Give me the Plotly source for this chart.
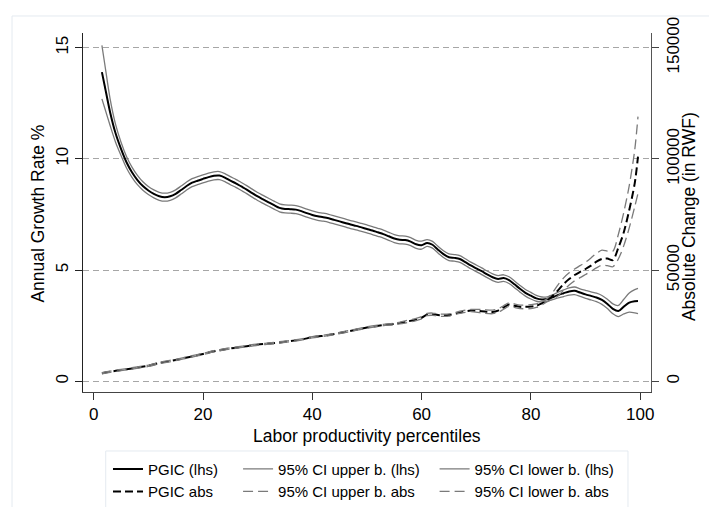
import plotly.graph_objects as go

# ---- growth incidence curve (left axis, % per year) ----
pct_lhs = [1.5, 2, 3, 4, 5, 6, 7, 8, 9, 10, 11, 12, 13, 14, 15, 16, 17, 18, 19, 20,
           21, 22, 23, 24, 25, 26, 27, 28, 29, 30, 31, 32, 33, 34, 35, 36, 37, 38, 39, 40,
           41, 42, 43, 44, 45, 46, 47, 48, 49, 50, 51, 52, 53, 54, 55, 56, 57, 58, 59, 60,
           61, 62, 63, 64, 65, 66, 67, 68, 69, 70, 71, 72, 73, 74, 75, 76, 77, 78, 79, 80,
           81, 82, 83, 84, 85, 86, 87, 88, 89, 90, 91, 92, 93, 94, 95, 96, 97, 98, 99, 99.6]

pgic_lhs = [13.90, 13.30, 12.10, 11.15, 10.45, 9.85, 9.40, 9.05, 8.78, 8.58,
            8.43, 8.32, 8.28, 8.32, 8.43, 8.60, 8.78, 8.93, 9.02, 9.10,
            9.18, 9.24, 9.25, 9.16, 9.02, 8.90, 8.76, 8.62, 8.46, 8.31,
            8.18, 8.05, 7.92, 7.80, 7.75, 7.74, 7.72, 7.65, 7.56, 7.48,
            7.42, 7.38, 7.33, 7.26, 7.19, 7.12, 7.05, 6.99, 6.92, 6.85,
            6.78, 6.70, 6.62, 6.52, 6.42, 6.36, 6.35, 6.28, 6.16, 6.12,
            6.22, 6.14, 5.92, 5.72, 5.58, 5.55, 5.50, 5.36, 5.21, 5.08,
            4.95, 4.81, 4.68, 4.60, 4.64, 4.55, 4.36, 4.16, 3.98, 3.85,
            3.73, 3.68, 3.70, 3.78, 3.88, 3.96, 4.04, 4.07, 3.99, 3.91,
            3.84, 3.77, 3.66, 3.48, 3.26, 3.16, 3.36, 3.54, 3.60, 3.61]

ci_up_lhs = [15.10, 14.30, 12.70, 11.55, 10.75, 10.11, 9.63, 9.26, 8.97, 8.76,
             8.61, 8.50, 8.46, 8.50, 8.61, 8.78, 8.96, 9.11, 9.20, 9.28,
             9.36, 9.42, 9.43, 9.34, 9.20, 9.08, 8.94, 8.80, 8.64, 8.49,
             8.36, 8.23, 8.10, 7.98, 7.93, 7.92, 7.90, 7.83, 7.74, 7.66,
             7.60, 7.56, 7.51, 7.44, 7.37, 7.30, 7.23, 7.17, 7.10, 7.03,
             6.96, 6.88, 6.80, 6.70, 6.60, 6.54, 6.53, 6.46, 6.34, 6.30,
             6.37, 6.29, 6.07, 5.87, 5.73, 5.70, 5.65, 5.51, 5.36, 5.23,
             5.10, 4.96, 4.83, 4.75, 4.79, 4.70, 4.51, 4.31, 4.13, 4.00,
             3.86, 3.79, 3.80, 3.89, 4.01, 4.11, 4.20, 4.24, 4.16, 4.09,
             4.02, 3.96, 3.86, 3.69, 3.48, 3.41, 3.69, 3.97, 4.12, 4.18]

ci_lo_lhs = [12.70, 12.30, 11.50, 10.75, 10.15, 9.59, 9.17, 8.84, 8.59, 8.40,
             8.25, 8.14, 8.10, 8.14, 8.25, 8.42, 8.60, 8.75, 8.84, 8.92,
             9.00, 9.06, 9.07, 8.98, 8.84, 8.72, 8.58, 8.44, 8.28, 8.13,
             8.00, 7.87, 7.74, 7.62, 7.57, 7.56, 7.54, 7.47, 7.38, 7.30,
             7.24, 7.20, 7.15, 7.08, 7.01, 6.94, 6.87, 6.81, 6.74, 6.67,
             6.60, 6.52, 6.44, 6.34, 6.24, 6.18, 6.17, 6.10, 5.98, 5.94,
             6.07, 5.99, 5.77, 5.57, 5.43, 5.40, 5.35, 5.21, 5.06, 4.93,
             4.80, 4.66, 4.53, 4.45, 4.49, 4.40, 4.21, 4.01, 3.83, 3.70,
             3.60, 3.57, 3.60, 3.67, 3.75, 3.81, 3.88, 3.90, 3.82, 3.73,
             3.66, 3.58, 3.46, 3.27, 3.04, 2.91, 3.03, 3.11, 3.08, 3.04]

# ---- absolute change curve (right axis, RWF) ----
pct_abs = [1.5, 3, 5, 7, 10, 12, 15, 18, 20, 22,
           25, 28, 30, 33, 35, 38, 40, 43, 45, 48,
           50, 53, 55, 57, 59, 60, 61, 62, 63, 65,
           67, 69, 71, 73, 74, 75, 76, 77, 78, 80,
           81, 82, 83, 84, 85, 86, 87, 88, 89, 90,
           91, 92, 93, 94, 95, 96, 97, 98, 99, 99.6]

pgic_abs = [3600, 4300, 5100, 5800, 7000, 8200, 9600, 11200, 12300, 13500,
            14800, 15800, 16500, 17200, 17800, 18800, 19800, 20800, 21700, 23200,
            24200, 25300, 25800, 26700, 27800, 28600, 30000, 30200, 29800, 29800,
            31000, 31800, 31500, 31200, 31800, 33200, 34500, 34000, 33500, 33600,
            34000, 35000, 36500, 38500, 41000, 43800, 46000, 47800, 49200, 50500,
            52000, 53800, 55000, 55200, 54500, 60000, 67000, 77000, 89000, 101000]

ci_up_abs = [3900, 4600, 5400, 6100, 7300, 8500, 9900, 11500, 12600, 13800,
             15100, 16100, 16800, 17500, 18100, 19100, 20100, 21100, 22000, 23500,
             24500, 25600, 26100, 27200, 28300, 29100, 30500, 30700, 30300, 30300,
             31500, 32300, 32300, 32000, 32600, 34000, 35300, 34800, 34300, 34500,
             34800, 35700, 37200, 40000, 43500, 46500, 48800, 50500, 52000, 53500,
             55500, 57500, 59000, 58500, 58500, 66000, 76000, 88000, 104000, 119000]

ci_lo_abs = [3300, 4000, 4800, 5500, 6700, 7900, 9300, 10900, 12000, 13200,
             14500, 15500, 16200, 16900, 17500, 18500, 19500, 20500, 21400, 22900,
             23900, 25000, 25500, 26200, 27300, 28100, 29500, 29700, 29300, 29300,
             30500, 31300, 30700, 30400, 31000, 32400, 33700, 33200, 32700, 32700,
             33200, 34300, 35800, 37000, 38500, 41000, 43300, 45200, 46600, 48000,
             49500, 51000, 52200, 52000, 51500, 55000, 61000, 69000, 78500, 84500]

x_ticks = [0, 20, 40, 60, 80, 100]
y_ticks = [0, 5, 10, 15]
y2_ticks = [0, 50000, 100000, 150000]

FONT = "Liberation Sans, Arial, sans-serif"
BLACK = "#000000"
GREY = "#7a7a7a"

fig = go.Figure()

def add_line(x, y, name, color, width, dash, yaxis, legend):
    fig.add_trace(go.Scatter(
        x=x, y=y, name=name, mode="lines", yaxis=yaxis, legend=legend,
        line=dict(color=color, width=width, dash=dash, shape="spline", smoothing=0.8),
        hoverinfo="skip",
    ))

# column 1 of the key
add_line(pct_lhs, pgic_lhs, "PGIC (lhs)", BLACK, 2, "solid", "y", "legend")
add_line(pct_abs, pgic_abs, "PGIC abs", BLACK, 2, "8px,4px", "y2", "legend")
# column 2
add_line(pct_lhs, ci_up_lhs, "95% CI upper b. (lhs)", GREY, 1.3, "solid", "y", "legend2")
add_line(pct_abs, ci_up_abs, "95% CI upper b. abs", GREY, 1.3, "10px,5px", "y2", "legend2")
# column 3
add_line(pct_lhs, ci_lo_lhs, "95% CI lower b. (lhs)", GREY, 1.3, "solid", "y", "legend3")
add_line(pct_abs, ci_lo_abs, "95% CI lower b. abs", GREY, 1.3, "10px,5px", "y2", "legend3")

tick_font = dict(family=FONT, size=17, color=BLACK)
title_font = dict(family=FONT, size=17.5, color=BLACK)

legend_common = dict(
    orientation="v", xanchor="left", yanchor="top", xref="paper", yref="paper",
    bgcolor="rgba(0,0,0,0)", borderwidth=0, tracegroupgap=0, itemwidth=30,
    font=dict(family=FONT, size=15, color=BLACK), itemclick=False,
)

fig.update_layout(
    width=709, height=507,
    margin=dict(l=83, r=58, t=33, b=115, pad=0, autoexpand=False),
    paper_bgcolor="white", plot_bgcolor="white",
    font=dict(family=FONT, color=BLACK),
    showlegend=True,
    legend=dict(x=0.044, y=-0.169, **legend_common),
    legend2=dict(x=0.273, y=-0.169, **legend_common),
    legend3=dict(x=0.619, y=-0.169, **legend_common),
    xaxis=dict(
        range=[-1.96, 101.98], tickvals=x_ticks, ticks="outside", ticklen=7,
        tickcolor="#333333", tickwidth=1, showline=True, linecolor="#444444",
        linewidth=1, showgrid=False, zeroline=False, tickfont=tick_font,
        mirror=False,
    ),
    yaxis=dict(
        range=[-0.48, 15.66], tickvals=y_ticks, ticks="outside", ticklen=7,
        tickcolor="#222222", tickwidth=1, showline=True, linecolor="#222222",
        linewidth=1, showgrid=True, gridcolor="#a6a6a6", gridwidth=1.3,
        griddash="6px,4px", zeroline=False, tickangle=-90, tickfont=tick_font,
    ),
    yaxis2=dict(
        range=[-4800, 156600], tickvals=y2_ticks, ticks="outside", ticklen=7,
        tickcolor="#444444", tickwidth=1, showline=True, linecolor="#555555",
        linewidth=1, showgrid=False, zeroline=False, tickangle=-90,
        tickfont=tick_font, overlaying="y", side="right", tickformat="d",
    ),
    annotations=[
        dict(text="Labor productivity percentiles", xref="paper", yref="paper",
             x=0.5, y=-0.1226, xanchor="center", yanchor="middle",
             showarrow=False, font=title_font),
        dict(text="Annual Growth Rate %", xref="paper", yref="paper",
             x=-0.0792, y=0.497, xanchor="center", yanchor="middle",
             textangle=-90, showarrow=False, font=title_font),
        dict(text="Absolute Change (in RWF)", xref="paper", yref="paper",
             x=1.0669, y=0.49, xanchor="center", yanchor="middle",
             textangle=-90, showarrow=False, font=title_font),
    ],
    shapes=[
        # outer graph-region frame
        dict(type="rect", xref="paper", yref="paper", x0=-0.125, x1=1.3,
             y0=-0.6, y1=1.0474, line=dict(color="#e4eaf0", width=1),
             fillcolor="rgba(0,0,0,0)", layer="below"),
        # frame around the key
        dict(type="rect", xref="paper", yref="paper", x0=0.0400, x1=0.9595,
             y0=-0.60, y1=-0.1643, line=dict(color="#e4eaf0", width=1),
             fillcolor="rgba(0,0,0,0)", layer="below"),
    ],
)

fig.write_html("out.html")
